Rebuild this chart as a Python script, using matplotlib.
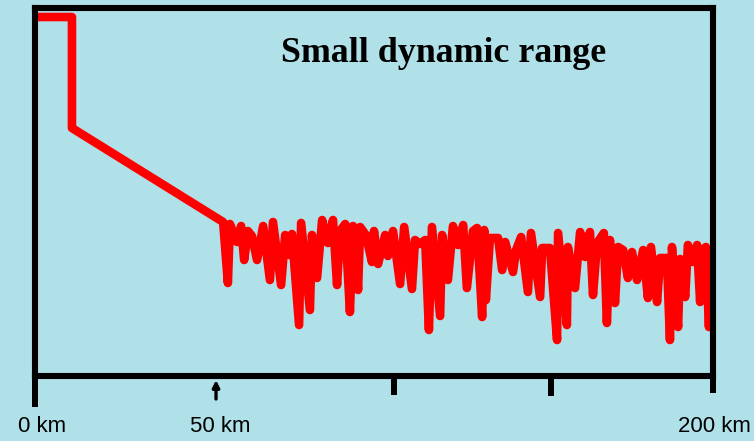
import matplotlib
matplotlib.use("Agg")
import matplotlib.pyplot as plt
from matplotlib.transforms import blended_transform_factory

# OTDR-style trace: distance along the fibre (km) and received level (dB)
distance_km = [
    0.0, 10.9, 10.9, 55.5,
    56.9, 57.5, 59.6, 60.8, 61.7, 62.8, 64.0, 65.5, 67.3, 69.3, 70.2, 72.6,
    73.8, 74.9, 75.8, 77.9, 78.5, 81.1, 81.7, 83.2, 84.7, 86.4, 87.9, 89.1,
    90.0, 91.5, 92.9, 93.8, 95.3, 95.9, 97.6, 99.4, 100.0, 101.2, 103.3,
    104.1, 105.6, 107.7, 108.9, 111.2, 112.1, 113.6, 115.1, 116.2, 117.1,
    119.5, 120.1, 121.8, 123.3, 124.8, 126.3, 127.4, 129.2, 130.4, 131.9,
    132.5, 133.0, 134.2, 136.6, 137.8, 138.7, 141.0, 141.9, 143.4, 145.4,
    146.3, 149.0, 149.6, 151.9, 154.0, 154.3, 156.9, 157.2, 159.3, 160.8,
    162.3, 163.7, 164.6, 165.8, 167.8, 168.7, 169.6, 171.1, 172.0, 173.5,
    174.9, 176.1, 177.6, 179.4, 180.8, 181.7, 183.5, 184.4, 186.4, 187.3,
    187.9, 189.7, 190.3, 191.8, 192.6, 194.1, 195.3, 196.2, 196.8, 197.9,
    198.8, 199.4,
]
level_db = [
    35.9, 35.9, 24.8, 15.4,
    9.3, 15.2, 13.4, 15.0, 11.6, 14.5, 14.0, 11.6, 15.0, 9.6, 15.4, 9.1,
    14.1, 12.1, 14.2, 5.1, 15.3, 6.6, 14.1, 9.8, 15.6, 13.3, 15.6, 9.1,
    14.5, 15.2, 6.4, 15.0, 8.6, 14.9, 14.1, 11.4, 14.5, 11.2, 14.1,
    12.0, 14.5, 9.2, 14.9, 8.7, 13.6, 13.2, 13.6, 4.6, 14.9,
    6.0, 14.1, 9.6, 15.0, 13.1, 15.1, 8.8, 14.5, 14.8, 5.9,
    14.6, 7.6, 13.8, 13.8, 10.6, 13.4, 10.4, 12.6, 13.9, 8.4,
    14.3, 7.9, 12.8, 12.8, 3.6, 14.3, 5.1, 12.9, 8.8, 14.4,
    11.9, 14.4, 8.1, 13.3, 14.3, 5.3, 13.6, 7.3, 12.9, 12.6,
    9.8, 12.4, 9.6, 12.6, 7.8, 12.9, 7.4, 11.8, 11.8, 3.6,
    12.9, 4.9, 11.7, 7.9, 13.1, 11.4, 13.1, 7.4, 12.6, 12.9,
    4.9, 12.6,
]

# Axis marks below the frame: (position km, length px)
tick_km = [0.0, 105.9, 152.2, 200.0]
tick_len_px = [31, 19, 20, 17]
marker_km = 53.4
axis_labels = ["0 km", "50 km", "200 km"]
label_km = [2.0, 54.6, 200.3]
title = "Small dynamic range"

W, H, DPI = 754, 441, 100
bg = "#b0e1e9"

fig = plt.figure(figsize=(W / DPI, H / DPI), dpi=DPI, facecolor=bg)
left, right, top, bottom = 35, 713, 8, 376
ax = fig.add_axes([left / W, 1 - bottom / H, (right - left) / W, (bottom - top) / H])
ax.set_facecolor(bg)
ax.set_xlim(0, 200)
ax.set_ylim(0, (bottom - top) / 10.0)

for s in ax.spines.values():
    s.set_linewidth(4.4)
    s.set_color("black")
    s.set_capstyle("projecting")

ax.set_xticks([])
ax.set_yticks([])

ax.plot(distance_km, level_db, color="#ff0000", lw=6.2,
        solid_joinstyle="round", solid_capstyle="round")

# ticks hanging below the bottom frame line
px_to_pt = 72.0 / DPI
trans = blended_transform_factory(ax.transData, ax.transAxes)
ax_h_px = bottom - top
for km, ln in zip(tick_km, tick_len_px):
    ax.plot([km, km], [0, -ln / ax_h_px], transform=trans, color="black",
            lw=6 * px_to_pt, clip_on=False, solid_capstyle="butt")

# upward arrow marking 50 km
ax.annotate("", xy=(marker_km, -4 / ax_h_px), xytext=(marker_km, -23 / ax_h_px),
            xycoords=trans, textcoords=trans,
            arrowprops=dict(arrowstyle="-|>", color="black", lw=2.4,
                            mutation_scale=10, shrinkA=0, shrinkB=0))

for lab, km in zip(axis_labels, label_km):
    ax.text(km, -50 / ax_h_px, lab, transform=trans, ha="center", va="center",
            fontsize=16, family="Liberation Sans", color="black", clip_on=False)

fig.text(444 / W, 1 - 62 / H, title, ha="center", va="baseline",
         fontsize=25.8, fontweight="bold", family="Liberation Serif", color="black")

fig.savefig("out.png", dpi=DPI, facecolor=bg)
